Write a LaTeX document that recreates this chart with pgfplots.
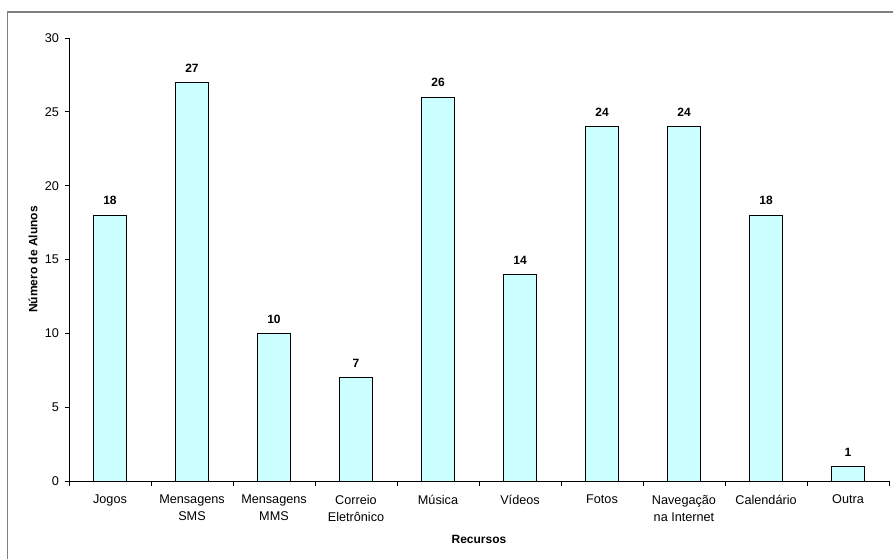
\documentclass[border=0pt]{standalone}
\usepackage{fontspec}
\setmainfont{Liberation Sans}
\usepackage{pgfplots}
\pgfplotsset{compat=1.18}
\definecolor{barfill}{RGB}{204,255,255}
\definecolor{framegray}{RGB}{128,128,128}

\begin{document}
\begin{tikzpicture}
% page extent and outer chart frame
\path[use as bounding box] (-51.75pt,-57.75pt) rectangle (618pt,360.75pt);
\draw[framegray, line width=1.4pt] (-46.1pt,351.75pt) rectangle (640pt,-80pt);
\begin{axis}[
  at={(0,0)}, anchor=south west,
  scale only axis,
  width=615pt, height=332.25pt,
  xmin=0, xmax=10, ymin=0, ymax=30,
  axis x line*=bottom, axis y line*=left,
  axis line style={-, black, line width=0.6pt},
  ytick={0,5,...,30},
  xtick={0.5,1.5,...,9.5},
  xticklabels={Jogos,Mensagens\\SMS,Mensagens\\MMS,Correio\\Eletrônico,Música,Vídeos,Fotos,Navegação\\na Internet,Calendário,Outra},
  minor xtick={0,1,...,10},
  major x tick style={draw=none},
  tick align=outside,
  major tick length=3pt,
  minor tick length=3.5pt,
  tick style={black, line width=0.6pt},
  /pgf/number format/assume math mode=true,
  ticklabel style={font=\fontsize{9.5}{12.75}\selectfont},
  xticklabel style={align=center, anchor=north, yshift=-4pt},
  yticklabel style={xshift=-1pt},
  xlabel={Recursos},
  ylabel={Número de Alunos},
  label style={font=\fontsize{9}{10.8}\selectfont\bfseries},
  xlabel style={at={(axis description cs:0.5,-0.1309)}, anchor=center},
  ylabel style={at={(axis description cs:-0.0439,0.5)}, anchor=center},
  ybar, bar width=24.75pt,
  nodes near coords,
  nodes near coords style={font=\fontsize{9}{10.8}\selectfont\bfseries, yshift=4pt},
  clip=false,
]
\addplot[fill=barfill, draw=black, line width=0.6pt] coordinates {
  (0.5,18) (1.5,27) (2.5,10) (3.5,7) (4.5,26)
  (5.5,14) (6.5,24) (7.5,24) (8.5,18) (9.5,1)
};
\end{axis}
\end{tikzpicture}
\end{document}
